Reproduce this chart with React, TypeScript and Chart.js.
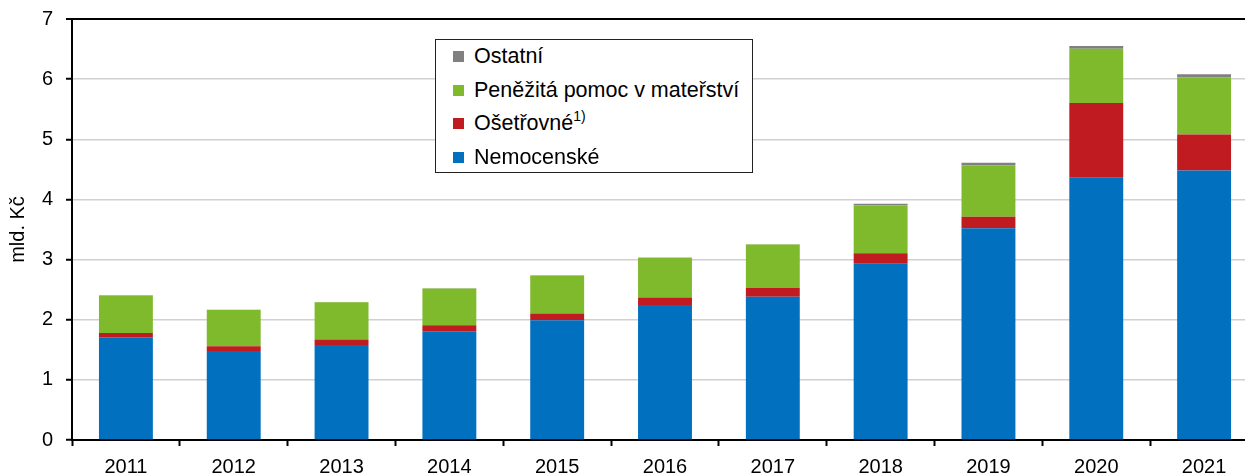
import React, { useEffect, useRef } from "react";
import { Chart, registerables } from "chart.js";

Chart.register(...registerables);

const categories = ["2011", "2012", "2013", "2014", "2015", "2016", "2017", "2018", "2019", "2020", "2021"];
const nemocenske = [1.71, 1.48, 1.58, 1.81, 1.99, 2.245, 2.38, 2.93, 3.52, 4.36, 4.48];
const osetrovne = [0.07, 0.08, 0.09, 0.1, 0.115, 0.125, 0.15, 0.175, 0.19, 1.245, 0.6];
const penezita = [0.62, 0.6, 0.62, 0.61, 0.63, 0.66, 0.72, 0.795, 0.86, 0.9, 0.95];
const ostatni = [0.005, 0.005, 0.005, 0.005, 0.005, 0.005, 0.005, 0.03, 0.04, 0.045, 0.05];

const yTitle = "mld. Kč";
const FONT = "'Liberation Sans', Arial, sans-serif";

const colors = {
  nemocenske: "#0070bf",
  osetrovne: "#bf1b21",
  penezita: "#7fba2c",
  ostatni: "#808080",
};

export default function App() {
  const ref = useRef<HTMLCanvasElement | null>(null);

  useEffect(() => {
    if (!ref.current) return;
    const bar = { categoryPercentage: 1, barPercentage: 0.5, borderWidth: 0 };
    const chart = new Chart(ref.current, {
      type: "bar",
      data: {
        labels: categories,
        datasets: [
          { label: "Nemocenské", data: nemocenske, backgroundColor: colors.nemocenske, ...bar },
          { label: "Ošetřovné", data: osetrovne, backgroundColor: colors.osetrovne, ...bar },
          { label: "Peněžitá pomoc v mateřství", data: penezita, backgroundColor: colors.penezita, ...bar },
          { label: "Ostatní", data: ostatni, backgroundColor: colors.ostatni, ...bar },
        ],
      },
      options: {
        responsive: false,
        animation: false,
        layout: { padding: { top: 19, right: 4, left: 0, bottom: 0 } },
        plugins: { legend: { display: false }, tooltip: { enabled: false } },
        scales: {
          x: {
            stacked: true,
            afterFit: (s: any) => {
              s.height = 34;
              s.paddingLeft = 0;
              s.paddingRight = 0;
            },
            border: { color: "#000", width: 2 },
            grid: {
              offset: true,
              drawOnChartArea: false,
              drawTicks: true,
              tickLength: 6,
              tickColor: "#000",
              tickWidth: 2,
            },
            ticks: { color: "#000", font: { family: FONT, size: 20 }, padding: 9, maxRotation: 0 },
          },
          y: {
            stacked: true,
            min: 0,
            max: 7,
            afterFit: (s: any) => {
              s.width = 72;
              s.paddingTop = 0;
              s.paddingBottom = 0;
            },
            border: { color: "#000", width: 2 },
            grid: {
              color: (c: any) => (c.tick && c.tick.value === 7 ? "#000" : "#d0d0d0"),
              lineWidth: (c: any) => (c.tick && c.tick.value === 7 ? 2 : 1.5),
              tickLength: 6,
              tickColor: "#000",
              tickWidth: 2,
            },
            ticks: { stepSize: 1, color: "#000", font: { family: FONT, size: 20 }, padding: 13 },
            title: {
              display: true,
              text: yTitle,
              color: "#000",
              font: { family: FONT, size: 20 },
              padding: { top: 6, bottom: 0 },
            },
          },
        },
      },
    });
    return () => chart.destroy();
  }, []);

  const legendItems = [
    { label: "Ostatní", color: colors.ostatni, sup: "" },
    { label: "Peněžitá pomoc v mateřství", color: colors.penezita, sup: "" },
    { label: "Ošetřovné", color: colors.osetrovne, sup: "1)" },
    { label: "Nemocenské", color: colors.nemocenske, sup: "" },
  ];

  return (
    <div
      style={{
        position: "fixed",
        left: 0,
        top: 0,
        width: 1245,
        height: 474,
        overflow: "hidden",
        background: "#fff",
      }}
    >
      <canvas ref={ref} width={1262} height={474} style={{ display: "block", width: 1262, height: 474 }} />
      <div
        style={{
          position: "absolute",
          left: 435,
          top: 39,
          width: 316,
          height: 132,
          border: "1.5px solid #222",
          background: "#fff",
          fontFamily: FONT,
          fontSize: 21.5,
          color: "#000",
        }}
      >
        {legendItems.map((it) => (
          <div key={it.label} style={{ position: "relative", height: 33.5, lineHeight: "33.5px" }}>
            <span
              style={{
                position: "absolute",
                left: 17,
                top: 11,
                width: 11,
                height: 11,
                background: it.color,
              }}
            />
            <span style={{ position: "absolute", left: 38, top: 0, whiteSpace: "nowrap" }}>
              {it.label}
              <sup style={{ fontSize: 14, position: "relative", top: -1, lineHeight: 0 }}>{it.sup}</sup>
            </span>
          </div>
        ))}
      </div>
    </div>
  );
}
